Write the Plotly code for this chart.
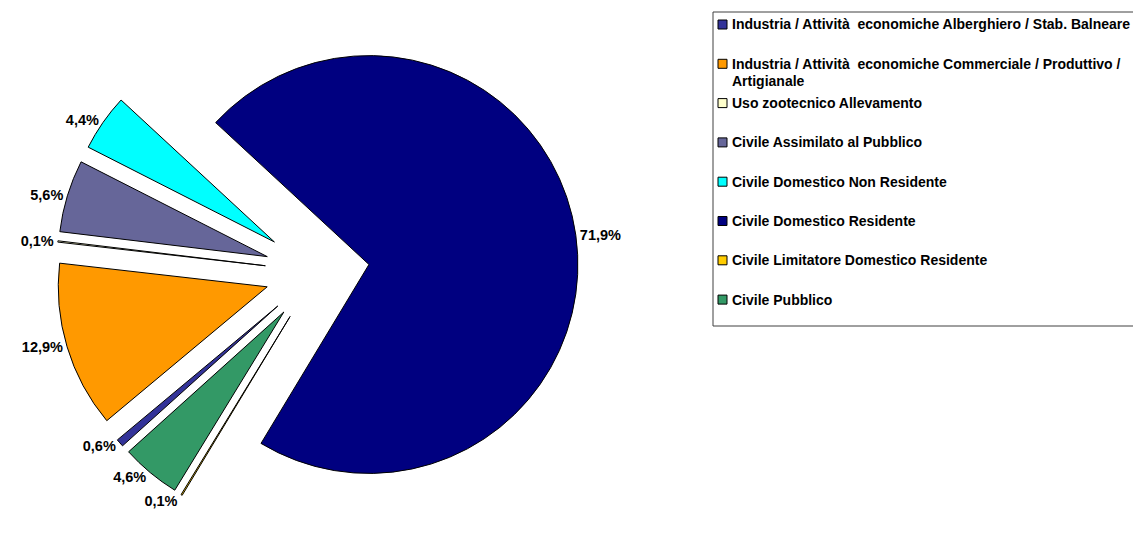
import plotly.graph_objects as go

# ---- data ----
labels = [
    "Industria / Attività  economiche Alberghiero / Stab. Balneare",
    "Industria / Attività  economiche Commerciale / Produttivo / Artigianale",
    "Uso zootecnico Allevamento",
    "Civile Assimilato al Pubblico",
    "Civile Domestico Non Residente",
    "Civile Domestico Residente",
    "Civile Limitatore Domestico Residente",
    "Civile Pubblico",
]
values = [0.6, 12.9, 0.1, 5.6, 4.4, 71.9, 0.1, 4.6]
colors = ["#333399", "#FF9900", "#FFFFCC", "#666699", "#00FFFF", "#000080", "#FFCC00", "#339966"]

W, H = 1133, 533
FONT = "Liberation Sans, Arial, Helvetica, sans-serif"

fig = go.Figure()
fig.add_trace(go.Pie(
    labels=labels,
    values=values,
    sort=False,
    direction="clockwise",
    rotation=228,
    pull=[0.25] * len(values),
    marker=dict(colors=colors, line=dict(color="black", width=1)),
    texttemplate="%{value:.1f}%",
    textposition="outside",
    textfont=dict(family=FONT, size=14.5, color="black", weight="bold"),
    domain=dict(x=[0.04, 0.52], y=[0.0, 0.98]),
    showlegend=False,
    hoverinfo="label+value",
))

# ---- manual legend (Excel-style spacing) ----
def px(x):
    return x / W

def py(y):
    return 1 - y / H

shapes = [dict(type="rect", xref="paper", yref="paper",
               x0=px(713), x1=px(1145), y0=py(12), y1=py(326),
               line=dict(color="#404040", width=1), fillcolor="rgba(0,0,0,0)", layer="below")]
annotations = []
legend_text = [l.replace("Produttivo / ", "Produttivo /<br>") for l in labels]
y0, step, line_h = 24.5, 39.3, 17
for i, (txt, col) in enumerate(zip(legend_text, colors)):
    yc = y0 + step * i
    shapes.append(dict(type="rect", xref="paper", yref="paper",
                       x0=px(718), x1=px(727), y0=py(yc - 4.5), y1=py(yc + 4.5),
                       line=dict(color="black", width=1), fillcolor=col))
    for k, line in enumerate(txt.split("<br>")):
        annotations.append(dict(xref="paper", yref="paper", x=px(730), y=py(yc + k * line_h),
                                xanchor="left", yanchor="middle", showarrow=False, text=line,
                                font=dict(family=FONT, size=14, color="black", weight="bold")))

fig.update_layout(
    width=W, height=H,
    margin=dict(l=0, r=0, t=0, b=0, autoexpand=False),
    paper_bgcolor="white", plot_bgcolor="white",
    separators=",.",
    showlegend=False,
    shapes=shapes,
    annotations=annotations,
    font=dict(family=FONT),
)

fig.write_html("out.html")
